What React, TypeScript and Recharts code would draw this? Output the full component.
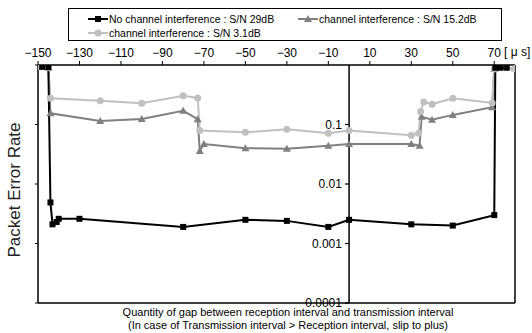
import React from "react";
import { LineChart, Line, XAxis, YAxis, ReferenceLine } from "recharts";

// ---- data ----
const blackX = [-148, -145, -144, -143, -141, -140, -130, -80, -50, -30, -10, 0, 30, 50, 70, 70.5, 73, 76];
const blackY = [0.93, 0.92, 0.0049, 0.0021, 0.0023, 0.0026, 0.0026, 0.0019, 0.0025, 0.0024, 0.0019, 0.0025, 0.0021, 0.002, 0.003, 0.9, 0.9, 0.9];

const grayX = [-150, -145, -144, -120, -100, -80, -73, -72, -70, -50, -30, -10, 0, 30, 34, 35, 40, 50, 69, 70, 80];
const grayY = [0.93, 0.9, 0.154, 0.115, 0.124, 0.17, 0.123, 0.036, 0.047, 0.04, 0.039, 0.044, 0.047, 0.047, 0.044, 0.135, 0.12, 0.145, 0.195, 0.86, 0.88];

const lightX = [-150, -145, -144, -120, -100, -80, -73, -72, -50, -30, -10, 0, 30, 33.5, 34.5, 36, 40, 50, 69, 70, 80];
const lightY = [0.94, 0.9, 0.275, 0.25, 0.227, 0.305, 0.28, 0.079, 0.074, 0.083, 0.071, 0.079, 0.066, 0.071, 0.165, 0.24, 0.22, 0.275, 0.23, 0.86, 0.87];

const seriesNames = [
  "No channel interference : S/N 29dB",
  "channel interference : S/N 15.2dB",
  "channel interference : S/N 3.1dB",
];
const seriesColors = ["#000000", "#808080", "#c0c0c0"];

const xTicks = [-150, -130, -110, -90, -70, -50, -30, -10, 10, 30, 50, 70];
const yTicks = [0.0001, 0.001, 0.01, 0.1, 1];
const yTickLabels = ["0.0001", "0.001", "0.01", "0.1"];
const xUnit = "[ μ s]";
const yTitle = "Packet Error Rate";
const xTitle1 = "Quantity of gap between reception interval and transmission interval";
const xTitle2 = "(In case of Transmission interval > Reception interval, slip to plus)";

const zip = (xs: number[], ys: number[]) => xs.map((x, i) => ({ x, y: ys[i] }));
const blackData = zip(blackX, blackY);
const grayData = zip(grayX, grayY);
const lightData = zip(lightX, lightY);

const FONT = "'Liberation Sans', Arial, sans-serif";

const SquareDot = (p: any) => {
  const { cx, cy, index } = p;
  if (cx == null || cy == null) return <g key={`s${index}`} />;
  return <rect key={`s${index}`} x={cx - 3} y={cy - 3} width={6} height={6} fill={seriesColors[0]} />;
};
const TriDot = (p: any) => {
  const { cx, cy, index } = p;
  if (cx == null || cy == null) return <g key={`t${index}`} />;
  return (
    <polygon
      key={`t${index}`}
      points={`${cx},${cy - 4} ${cx - 4},${cy + 3} ${cx + 4},${cy + 3}`}
      fill={seriesColors[1]}
    />
  );
};
const CircDot = (p: any) => {
  const { cx, cy, index } = p;
  if (cx == null || cy == null) return <g key={`c${index}`} />;
  return <circle key={`c${index}`} cx={cx} cy={cy} r={3.5} fill={seriesColors[2]} />;
};

const LegendIcon = ({ i }: { i: number }) => (
  <svg width={20} height={8} style={{ display: "block" }}>
    <line x1={0} y1={4} x2={20} y2={4} stroke={seriesColors[i]} strokeWidth={2} />
    {i === 0 && <rect x={7} y={1} width={6} height={6} fill={seriesColors[0]} />}
    {i === 1 && <polygon points="10,0 6,7 14,7" fill={seriesColors[1]} />}
    {i === 2 && <circle cx={10} cy={4} r={3.5} fill={seriesColors[2]} />}
  </svg>
);

const LegendItem = ({ i, left, top }: { i: number; left: number; top: number }) => (
  <div
    style={{
      position: "absolute",
      left,
      top,
      display: "flex",
      alignItems: "center",
      height: 12,
      fontSize: 10.5,
      whiteSpace: "nowrap",
      color: "#000",
    }}
  >
    <LegendIcon i={i} />
    <span style={{ marginLeft: 1 }}>{seriesNames[i]}</span>
  </div>
);

const fmt = (v: number) => String(v).replace("-", "\u2212");

export default function App() {
  return (
    <div
      style={{
        position: "absolute",
        left: 0,
        top: 0,
        width: 532,
        height: 333,
        background: "#fff",
        fontFamily: FONT,
        overflow: "hidden",
      }}
    >
      <LineChart width={532} height={333} margin={{ top: 0, right: 17, left: 0, bottom: 30 }}>
        <XAxis
          dataKey="x"
          type="number"
          orientation="top"
          domain={[-150, 80]}
          ticks={xTicks}
          tickFormatter={fmt}
          height={65}
          tickSize={4}
          tickMargin={4}
          axisLine={{ stroke: "#000", strokeWidth: 1.5 }}
          tickLine={{ stroke: "#000" }}
          tick={{ fill: "#000", fontSize: 12, fontFamily: FONT }}
          allowDataOverflow
        />
        <YAxis
          dataKey="y"
          type="number"
          scale="log"
          domain={[0.0001, 1]}
          ticks={yTicks}
          tickFormatter={() => ""}
          width={38}
          tickSize={3}
          axisLine={{ stroke: "#000", strokeWidth: 1.5 }}
          tickLine={{ stroke: "#000" }}
          allowDataOverflow
        />
        <ReferenceLine y={0.0001} stroke="#000" strokeWidth={1.5} />
        <ReferenceLine x={80} stroke="#000" strokeWidth={1.5} />
        <ReferenceLine x={0} stroke="#000" strokeWidth={1.5} />
        {yTickLabels.map((lab, i) => (
          <ReferenceLine
            key={lab}
            segment={[
              { x: -2, y: yTicks[i] },
              { x: 0, y: yTicks[i] },
            ]}
            stroke="#000"
            strokeWidth={1.2}
            label={{ value: lab, position: "left", offset: 3, fill: "#000", fontSize: 12, fontFamily: FONT }}
          />
        ))}
        <Line
          data={grayData}
          dataKey="y"
          stroke={seriesColors[1]}
          strokeWidth={2}
          dot={TriDot}
          activeDot={false}
          isAnimationActive={false}
        />
        <Line
          data={lightData}
          dataKey="y"
          stroke={seriesColors[2]}
          strokeWidth={2}
          dot={CircDot}
          activeDot={false}
          isAnimationActive={false}
        />
        <Line
          data={blackData}
          dataKey="y"
          stroke={seriesColors[0]}
          strokeWidth={2}
          dot={SquareDot}
          activeDot={false}
          isAnimationActive={false}
        />
      </LineChart>

      {/* legend */}
      <div
        style={{
          position: "absolute",
          left: 68,
          top: 8,
          width: 434,
          height: 33,
          border: "1.5px solid #000",
          boxSizing: "border-box",
        }}
      >
        <LegendItem i={0} left={19} top={4} />
        <LegendItem i={1} left={229} top={4} />
        <LegendItem i={2} left={19} top={18} />
      </div>

      {/* unit */}
      <div style={{ position: "absolute", left: 504, top: 45, fontSize: 12, color: "#000", whiteSpace: "nowrap" }}>
        {xUnit}
      </div>

      {/* y title */}
      <div
        style={{
          position: "absolute",
          left: 15,
          top: 190,
          transform: "translate(-50%, -50%) rotate(-90deg)",
          fontSize: 17,
          color: "#222",
          whiteSpace: "nowrap",
        }}
      >
        {yTitle}
      </div>

      {/* x title */}
      <div
        style={{
          position: "absolute",
          left: 0,
          width: 576,
          top: 306,
          textAlign: "center",
          fontSize: 11,
          lineHeight: "12.5px",
          color: "#000",
        }}
      >
        <div>{xTitle1}</div>
        <div>{xTitle2}</div>
      </div>
    </div>
  );
}
